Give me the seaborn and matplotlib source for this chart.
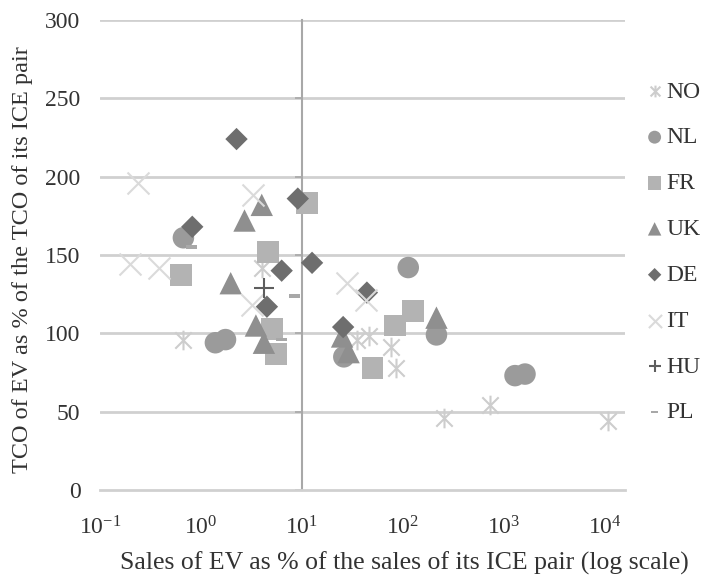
import numpy as np
import pandas as pd
import matplotlib
matplotlib.use("Agg")
import matplotlib.pyplot as plt
import matplotlib.path as mpath
from matplotlib.ticker import FixedLocator, LogFormatterMathtext, NullFormatter
import seaborn as sns

# ---- data ----
countries = ["NO", "NL", "FR", "UK", "DE", "IT", "HU", "PL"]

no_x = [0.67, 4.0, 35, 46, 77, 86, 257, 724, 10700]
no_y = [96, 142, 96, 98, 91, 78, 46, 54, 44]

nl_x = [0.67, 1.39, 1.75, 26, 113, 215, 1290, 1620]
nl_y = [161, 94, 96, 85, 142, 99, 73, 74]

fr_x = [0.64, 4.6, 11.2, 5.0, 5.5, 50, 84, 126]
fr_y = [137, 152, 183, 103, 87, 78, 105, 114]

uk_x = [1.97, 2.7, 4.0, 3.5, 4.2, 25, 29, 215]
uk_y = [132, 172, 182, 105, 94, 98, 88, 110]

de_x = [2.25, 0.82, 9.1, 6.3, 12.6, 4.5, 25.6, 44]
de_y = [224, 168, 186, 140, 145, 117, 104, 126]

it_x = [0.24, 0.20, 0.38, 3.3, 3.2, 28, 43]
it_y = [196, 144, 142, 188, 118, 132, 121]

hu_x = [4.2]
hu_y = [129]

pl_x = [0.81, 8.5, 6.3]
pl_y = [155, 124, 96]

x_tick_values = [0.1, 1, 10, 100, 1000, 10000]
y_tick_values = [0, 50, 100, 150, 200, 250, 300]

series = {
    "NO": (no_x, no_y), "NL": (nl_x, nl_y), "FR": (fr_x, fr_y), "UK": (uk_x, uk_y),
    "DE": (de_x, de_y), "IT": (it_x, it_y), "HU": (hu_x, hu_y), "PL": (pl_x, pl_y),
}
frames = []
for c in countries:
    xs, ys = series[c]
    frames.append(pd.DataFrame({"country": c, "sales": xs, "tco": ys}))
df = pd.concat(frames, ignore_index=True)

# ---- styling ----
sns.set_theme(style="white")
plt.rcParams["font.family"] = ["Liberation Serif", "DejaVu Serif"]
plt.rcParams["mathtext.fontset"] = "custom"
plt.rcParams["mathtext.rm"] = "Liberation Serif"

M, L, C = mpath.Path.MOVETO, mpath.Path.LINETO, mpath.Path.CLOSEPOLY
star_path = mpath.Path(
    [(-1, -1), (1, 1), (-1, 1), (1, -1), (0, -1.2), (0, 1.2)],
    [M, L, M, L, M, L])
dash_path = mpath.Path(
    [(-1, -0.35), (1, -0.35), (1, 0.35), (-1, 0.35), (-1, -0.35)],
    [M, L, L, L, C])

style = {
    "NO": dict(marker=star_path, s=200, color="#cdcdcd", edgecolor="#cdcdcd", linewidth=1.5),
    "NL": dict(marker="o", s=240, color="#9b9b9b", edgecolor="none"),
    "FR": dict(marker="s", s=250, color="#b3b3b3", edgecolor="none"),
    "UK": dict(marker="^", s=260, color="#8f8f8f", edgecolor="none"),
    "DE": dict(marker="D", s=130, color="#6e6e6e", edgecolor="none"),
    "IT": dict(marker="x", s=250, color="#dadada", linewidth=1.5),
    "HU": dict(marker="+", s=220, color="#5e5e5e", linewidth=1.5),
    "PL": dict(marker=dash_path, s=60, color="#a8a8a8", edgecolor="none"),
}

fig = plt.figure(figsize=(7.04, 5.81), dpi=100)
ax = fig.add_axes([100 / 704, 1 - 490 / 581, 525 / 704, 470 / 581])

grid_c = "#d0d0d0"
for yv in y_tick_values[1:]:
    ax.axhline(yv, color=grid_c, lw=2.0, zorder=0)

for c in countries:
    sub = df[df["country"] == c]
    sns.scatterplot(data=sub, x="sales", y="tco", ax=ax, label=c, zorder=3, **style[c])

ax.set_xscale("log")
ax.set_xlim(0.1, 10 ** 4.2)
ax.set_ylim(0, 300)

text_c = "#333333"

# y axis: labels on the left, axis line at x = 10
ax.set_yticks(y_tick_values)
ax.tick_params(axis="y", length=0, pad=14, labelsize=17, labelcolor=text_c)
for sp in ["left", "right", "top"]:
    ax.spines[sp].set_visible(False)
ax.spines["bottom"].set_color(grid_c)
ax.spines["bottom"].set_linewidth(2.0)

sec = ax.secondary_yaxis(np.log10(10 / 0.1) / 5.2)
sec.set_yticks(y_tick_values[:-1])
sec.tick_params(axis="y", length=5, width=1.2, color="#a8a8a8", labelleft=False, direction="out")
sec.spines["left"].set_color("#a8a8a8")
sec.spines["left"].set_linewidth(1.5)

# x axis
ax.xaxis.set_major_locator(FixedLocator(x_tick_values))
ax.xaxis.set_major_formatter(LogFormatterMathtext())
ax.xaxis.set_minor_locator(FixedLocator([0.1, 10, 1000]))
ax.xaxis.set_minor_formatter(NullFormatter())
ax.tick_params(axis="x", which="major", length=0, pad=19, labelsize=17, labelcolor=text_c)
ax.tick_params(axis="x", which="minor", length=5, width=1.2, color="#bbbbbb", direction="out")

ax.set_xlabel("Sales of EV as % of the sales of its ICE pair (log scale)", fontsize=18.5, color=text_c)
ax.xaxis.set_label_coords((404 - 100) / 525, -0.13)
ax.set_ylabel("TCO of EV as % of the TCO of its ICE pair", fontsize=17.5, color=text_c)
ax.yaxis.set_label_coords(-0.128, 0.49)

ax.legend(loc="upper left", bbox_to_anchor=(644 / 704, 1 - 81 / 581), bbox_transform=fig.transFigure,
          frameon=False, fontsize=17, labelspacing=1.03, handletextpad=0.05, handlelength=0.9,
          markerscale=0.6, borderaxespad=0, borderpad=0, labelcolor=text_c)

fig.savefig("out.png", dpi=100)
